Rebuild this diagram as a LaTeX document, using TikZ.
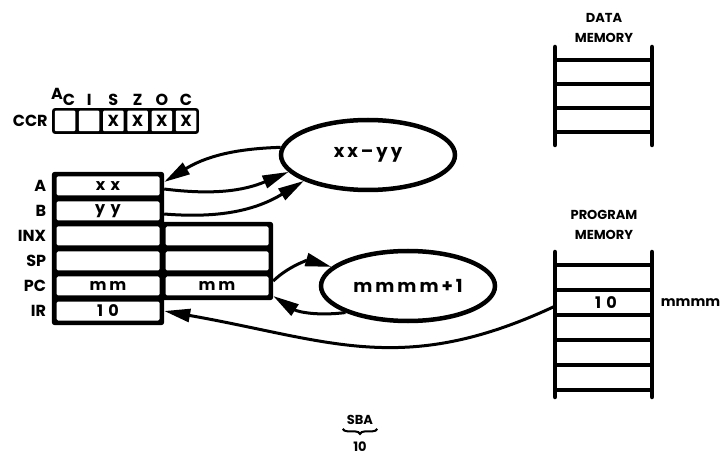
\documentclass[tikz,border=0pt]{standalone}
\usepackage{fontspec}
\setmainfont{Poppins}
\usetikzlibrary{arrows.meta,positioning,shapes.geometric,fit,backgrounds,decorations.pathreplacing}

\begin{document}
\begin{tikzpicture}[
  x=1pt,y=1pt,
  font=\bfseries\fontsize{16}{18}\selectfont,
  cell/.style={fill=white,rounded corners=1.5pt,minimum width=103pt,minimum height=19pt,inner sep=0pt},
  flag/.style={fill=white,rounded corners=1pt,minimum width=20.5pt,minimum height=20.5pt,inner sep=0pt},
  flagname/.style={inner sep=0pt,above=5pt of #1},
  frame/.style={fill=black,rounded corners=3pt,inner sep=4.5pt},
  reglabel/.style={font=\bfseries\fontsize{16}{18}\selectfont,inner sep=0pt},
  bubble/.style={ellipse,draw,line width=4.5pt,minimum width=174pt,minimum height=70pt,inner sep=0pt,font=\bfseries\fontsize{18}{20}\selectfont},
  rail/.style={line width=4.5pt,line cap=round},
  rung/.style={line width=3.5pt},
  memlabel/.style={font=\bfseries\fontsize{13}{20}\selectfont,align=center},
  arrow/.style={-{Triangle[length=26pt,width=13pt]},line width=3pt}
]
\useasboundingbox (0,0) rectangle (720,469);

% condition code register
\foreach \i/\t in {1/,2/,3/X,4/X,5/X,6/X}
  \node[flag] (c\i) at ({65+24.2*(\i-1)},348) {\t};
\node[flagname=c1,xshift=-2pt] (fac) {A\raisebox{-6pt}{C}};
\foreach \i/\t in {2/I,3/S,4/Z,5/O,6/C}
  \node[flagname=c\i] (f\i) {\t};

% registers
\node[cell] (a) at (108,283) {x\,\,x};
\node[cell] (b) at (108,258) {y\,\,y};
\node[cell] (inx) at (108,233) {};
\node[cell] (sp) at (108,208) {};
\node[cell] (pc) at (108,183) {m\,m};
\node[cell] (ir) at (108,158) {1\,\,0};
\node[cell] (inx2) at (217,233) {};
\node[cell] (sp2) at (217,208) {};
\node[cell] (pc2) at (217,183) {m\,m};

\begin{scope}[on background layer]
\node[frame,fit=(c1)(c6),inner sep=2.5pt] (ccr) {};
\node[frame,fit=(a)(ir)] (regs) {};
\node[frame,fit=(inx2)(pc2)] (regs2) {};
\end{scope}

\node[reglabel,left=4pt of ccr] (lccr) {CCR};
\foreach \r/\t in {a/A,b/B,inx/INX,sp/SP,pc/PC,ir/IR}
  \node[reglabel,left=10pt of \r] (l\r) {\t};

% ALU operations
\node[bubble] (xe) at (368,314) {x\,x\,--\,y\,y};
\node[bubble] (mp) at (408,183) {m\,m\,m\,m\,+\,1};

% memories
\draw[rail] (555,324) -- (555,422);
\draw[rail] (652,324) -- (652,422);
\foreach \y in {409,385,361,337}
  \draw[rung] (555,\y) -- (652,\y);
\node[memlabel] (dmem) at (604,441) {DATA\\MEMORY};

\draw[rail] (555,72) -- (555,217);
\draw[rail] (652,72) -- (652,217);
\foreach \y in {204,179,154,129,104,79}
  \draw[rung] (555,\y) -- (652,\y);
\node[minimum width=97pt,minimum height=25pt,inner sep=0pt] (pm) at (606,166.5) {1\,\,0};
\node[right=6pt of pm,inner sep=0pt,font=\bfseries\fontsize{14}{16}\selectfont] (addr) {mmmm};
\node[memlabel] (pmem) at (604,244) {PROGRAM\\MEMORY};

% data paths
\draw[arrow] (xe.175) to[bend right=15] ([xshift=4.5pt,yshift=4pt]a.east);
\draw[arrow] ([xshift=4.5pt,yshift=-3pt]a.east) to[bend right=15] (xe.192);
\draw[arrow] ([xshift=4.5pt,yshift=-3pt]b.east) to[bend right=18] (xe.202);
\draw[arrow] ([xshift=4.5pt,yshift=5pt]pc2.east) to[bend left=30] (mp.166);
\draw[arrow] (mp.203) to[bend left=20] ([xshift=4.5pt,yshift=-10pt]pc2.east);
\draw[arrow] ([xshift=-3pt,yshift=-4pt]pm.west) to[out=205,in=-10,looseness=1.1] ([xshift=4.5pt]ir.east);

% opcode
\node[inner sep=0pt,font=\bfseries\fontsize{13}{14}\selectfont] (sba) at (360,49) {SBA};
\node[inner sep=0pt,below=17pt of sba,font=\bfseries\fontsize{13}{14}\selectfont] (ten) {10};
\draw[decorate,decoration={brace,mirror,amplitude=5pt},line width=2pt]
  ([xshift=-4pt,yshift=-4pt]sba.south west) -- ([xshift=4pt,yshift=-4pt]sba.south east);
\end{tikzpicture}
\end{document}
